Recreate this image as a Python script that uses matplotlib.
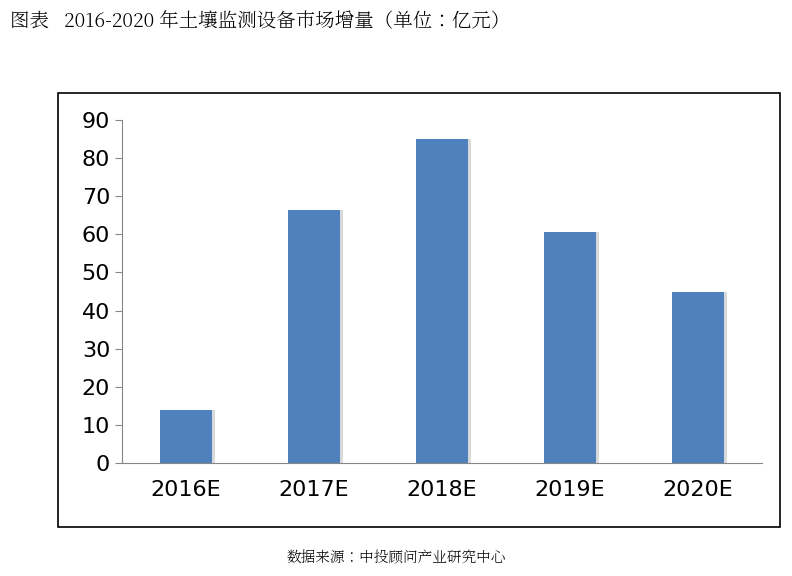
import matplotlib.pyplot as plt
from matplotlib import font_manager
from matplotlib.patches import Rectangle

cjk_path = None
for f in font_manager.fontManager.ttflist:
    if "CJK" in f.name and ("SC" in f.name or cjk_path is None):
        cjk_path = f.fname
cjk = font_manager.FontProperties(fname=cjk_path) if cjk_path else None
cjk_bold = font_manager.FontProperties(fname=cjk_path, weight="bold") if cjk_path else None

categories = ["2016E", "2017E", "2018E", "2019E", "2020E"]
values = [14, 66.5, 85, 60.5, 45]
yticks = [0, 10, 20, 30, 40, 50, 60, 70, 80, 90]

fig = plt.figure(figsize=(7.92, 5.76), dpi=100)
W, H = 792, 576

t = fig.text(10 / W, 1 - 22 / H, "图表   2016-2020 年土壤监测设备市场增量（单位：亿元）",
             fontproperties=cjk_bold, va="center", ha="left")
t.set_fontsize(14)
t.set_fontweight("bold")
s = fig.text(396 / W, 1 - 558 / H, "数据来源：中投顾问产业研究中心",
             fontproperties=cjk, va="center", ha="center")
s.set_fontsize(10.5)

fig.patches.append(Rectangle((58 / W, 1 - 527 / H), (780 - 58) / W, (527 - 93) / H,
                             transform=fig.transFigure, fill=False,
                             edgecolor="black", linewidth=1.2))

ax = fig.add_axes([122 / W, 1 - 463 / H, (762 - 122) / W, (463 - 120) / H])
x = range(len(categories))
# soft shadow behind bars
ax.bar([i + 0.025 for i in x], values, width=0.4, color="#d9d9d9", zorder=1)
ax.bar(x, values, width=0.4, color="#4f81bd", zorder=2)

ax.set_ylim(0, 90)
ax.set_xlim(-0.5, len(categories) - 0.5)
ax.set_yticks(yticks)
ax.set_xticks(list(x))
ax.set_xticklabels(categories)
ax.tick_params(axis="y", labelsize=16, length=5, direction="out", color="#868686")
ax.tick_params(axis="x", labelsize=16, length=0, pad=12)
for sp in ["top", "right"]:
    ax.spines[sp].set_visible(False)
ax.spines["left"].set_color("#868686")
ax.spines["bottom"].set_color("#868686")

fig.savefig("out.png", dpi=100)
